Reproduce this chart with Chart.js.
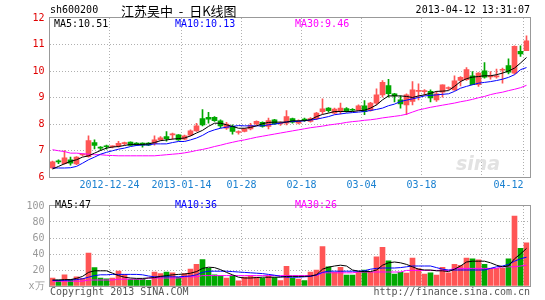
<!DOCTYPE html>
<html>
<head>
<meta charset="utf-8">
<script src="https://cdn.jsdelivr.net/npm/chart.js@4/dist/chart.umd.min.js"></script>
<style>
  html, body { margin: 0; padding: 0; background: #fff; }
  #wrap { position: relative; width: 545px; height: 300px; overflow: hidden; }
  canvas { position: absolute; left: 0; }
  #kline { top: 0; }
  #volume { top: 195px; }
</style>
</head>
<body>
<div id="wrap">
  <canvas id="kline" width="545" height="195"></canvas>
  <canvas id="volume" width="545" height="105"></canvas>
</div>
<script>
// ===== Data =====
const dates = [
  '2012-12-10','2012-12-11','2012-12-12','2012-12-13','2012-12-14','2012-12-17','2012-12-18','2012-12-19','2012-12-20','2012-12-21',
  '2012-12-24','2012-12-25','2012-12-26','2012-12-27','2012-12-28','2012-12-31','2013-01-04','2013-01-07','2013-01-08','2013-01-09',
  '2013-01-10','2013-01-11','2013-01-14','2013-01-15','2013-01-16','2013-01-17','2013-01-18','2013-01-21','2013-01-22','2013-01-23',
  '2013-01-24','2013-01-25','2013-01-28','2013-01-29','2013-01-30','2013-01-31','2013-02-01','2013-02-04','2013-02-05','2013-02-06',
  '2013-02-07','2013-02-08','2013-02-18','2013-02-19','2013-02-20','2013-02-21','2013-02-22','2013-02-25','2013-02-26','2013-02-27',
  '2013-02-28','2013-03-01','2013-03-04','2013-03-05','2013-03-06','2013-03-07','2013-03-08','2013-03-11','2013-03-12','2013-03-13',
  '2013-03-14','2013-03-15','2013-03-18','2013-03-19','2013-03-20','2013-03-21','2013-03-22','2013-03-25','2013-03-26','2013-03-27',
  '2013-03-28','2013-03-29','2013-04-01','2013-04-02','2013-04-03','2013-04-08','2013-04-09','2013-04-10','2013-04-11','2013-04-12'
];

const openP = [
  6.34, 6.58, 6.50, 6.65, 6.49, 6.83, 6.77, 7.30, 7.10, 7.15,
  7.14, 7.16, 7.26, 7.32, 7.28, 7.28, 7.28, 7.27, 7.40, 7.53,
  7.59, 7.59, 7.43, 7.58, 7.74, 8.20, 8.25, 8.25, 8.12, 7.84,
  7.91, 7.68, 7.72, 7.81, 8.00, 8.06, 7.91, 8.16, 8.00, 8.03,
  8.20, 8.03, 8.17, 8.10, 8.20, 8.47, 8.60, 8.41, 8.47, 8.58,
  8.54, 8.51, 8.69, 8.51, 8.79, 9.10, 9.45, 9.14, 8.91, 8.72,
  8.85, 9.23, 9.22, 9.23, 8.91, 9.20, 9.34, 9.29, 9.64, 9.67,
  9.82, 9.48, 10.01, 9.78, 9.78, 10.03, 10.20, 9.92, 10.74, 10.77
];
const highP = [
  6.60, 6.65, 7.00, 6.75, 6.77, 6.87, 7.55, 7.40, 7.15, 7.20,
  7.18, 7.35, 7.32, 7.33, 7.30, 7.29, 7.30, 7.55, 7.53, 7.71,
  7.66, 7.60, 7.58, 7.78, 8.03, 8.54, 8.44, 8.28, 8.16, 8.06,
  7.97, 7.74, 7.84, 8.03, 8.12, 8.08, 8.22, 8.18, 8.08, 8.51,
  8.22, 8.16, 8.22, 8.24, 8.44, 8.95, 8.62, 8.60, 8.79, 8.62,
  8.58, 8.72, 8.88, 8.82, 9.33, 9.64, 9.69, 9.16, 9.06, 9.14,
  9.60, 9.52, 9.30, 9.29, 9.23, 9.48, 9.40, 9.82, 9.79, 10.13,
  9.98, 9.94, 10.32, 9.98, 10.07, 10.11, 10.46, 10.95, 10.95, 11.33
];
const lowP = [
  6.32, 6.50, 6.48, 6.45, 6.47, 6.80, 6.75, 7.06, 7.00, 7.05,
  7.10, 7.13, 7.20, 7.18, 7.18, 7.13, 7.18, 7.20, 7.38, 7.35,
  7.43, 7.38, 7.40, 7.55, 7.72, 7.93, 8.03, 8.10, 7.85, 7.80,
  7.62, 7.62, 7.70, 7.78, 7.97, 7.88, 7.81, 7.98, 7.95, 7.97,
  8.03, 8.00, 8.10, 8.07, 8.16, 8.38, 8.45, 8.38, 8.38, 8.45,
  8.48, 8.50, 8.35, 8.48, 8.72, 9.01, 9.01, 8.83, 8.60, 8.35,
  8.72, 8.91, 9.10, 8.83, 8.85, 9.01, 9.30, 9.27, 9.44, 9.64,
  9.48, 9.42, 9.73, 9.69, 9.73, 9.54, 9.89, 9.88, 10.55, 10.77
];
const closeP = [
  6.57, 6.57, 6.72, 6.52, 6.75, 6.85, 7.37, 7.19, 7.09, 7.14,
  7.16, 7.27, 7.28, 7.19, 7.20, 7.20, 7.20, 7.40, 7.48, 7.45,
  7.61, 7.40, 7.55, 7.74, 7.93, 7.97, 8.18, 8.13, 7.93, 8.00,
  7.72, 7.70, 7.82, 7.94, 8.10, 7.91, 8.13, 8.00, 8.03, 8.28,
  8.07, 8.10, 8.15, 8.20, 8.41, 8.57, 8.50, 8.56, 8.60, 8.50,
  8.52, 8.69, 8.47, 8.79, 9.10, 9.57, 9.14, 9.06, 8.76, 9.10,
  9.29, 9.25, 9.24, 8.98, 9.14, 9.48, 9.36, 9.63, 9.76, 10.05,
  9.48, 9.92, 9.77, 9.80, 9.80, 10.05, 9.96, 10.93, 10.64, 11.14
];

const ma5 = [
  6.30, 6.40, 6.50, 6.59, 6.65, 6.75, 6.80, 6.90, 7.00, 7.09,
  7.13, 7.15, 7.19, 7.23, 7.23, 7.23, 7.25, 7.30, 7.37, 7.40,
  7.43, 7.45, 7.47, 7.55, 7.66, 7.76, 7.91, 8.03, 8.03, 7.97,
  7.91, 7.84, 7.84, 7.87, 7.93, 8.01, 8.06, 8.07, 8.07, 8.07,
  8.12, 8.12, 8.13, 8.16, 8.28, 8.36, 8.41, 8.47, 8.47, 8.47,
  8.47, 8.50, 8.52, 8.60, 8.72, 8.91, 9.06, 9.06, 9.06, 9.04,
  9.00, 9.06, 9.10, 9.16, 9.23, 9.24, 9.26, 9.42, 9.60, 9.71,
  9.77, 9.79, 9.82, 9.82, 9.86, 9.92, 10.00, 10.11, 10.30, 10.51
];
const ma10 = [
  6.34, 6.34, 6.34, 6.35, 6.40, 6.52, 6.65, 6.75, 6.86, 6.93,
  6.99, 7.05, 7.09, 7.15, 7.19, 7.21, 7.21, 7.25, 7.25, 7.25,
  7.30, 7.34, 7.34, 7.40, 7.47, 7.57, 7.70, 7.78, 7.84, 7.88,
  7.91, 7.94, 7.93, 7.93, 7.93, 7.93, 7.97, 8.00, 8.03, 8.08,
  8.09, 8.10, 8.12, 8.15, 8.18, 8.23, 8.28, 8.35, 8.38, 8.41,
  8.43, 8.45, 8.47, 8.51, 8.55, 8.60, 8.69, 8.75, 8.85, 8.90,
  8.95, 9.00, 9.06, 9.08, 9.10, 9.12, 9.14, 9.23, 9.35, 9.42,
  9.48, 9.54, 9.57, 9.60, 9.64, 9.69, 9.76, 9.86, 10.05, 10.13
];
const ma30 = [
  7.03, 6.99, 6.96, 6.90, 6.90, 6.88, 6.86, 6.84, 6.84, 6.82,
  6.81, 6.80, 6.80, 6.80, 6.80, 6.80, 6.80, 6.80, 6.82, 6.84,
  6.86, 6.88, 6.91, 6.95, 7.00, 7.04, 7.09, 7.15, 7.20, 7.26,
  7.31, 7.36, 7.40, 7.45, 7.50, 7.54, 7.58, 7.62, 7.66, 7.70,
  7.74, 7.78, 7.82, 7.86, 7.89, 7.92, 7.96, 7.99, 8.02, 8.06,
  8.09, 8.11, 8.14, 8.16, 8.19, 8.23, 8.26, 8.29, 8.32, 8.37,
  8.45, 8.53, 8.58, 8.63, 8.67, 8.71, 8.75, 8.79, 8.84, 8.88,
  8.93, 8.99, 9.04, 9.11, 9.16, 9.20, 9.26, 9.31, 9.37, 9.46
];

// volume dalam satuan 万
const volume = [
  10, 7.5, 14, 8, 11.5, 9.7, 41, 23, 10, 9,
  10, 18.5, 14.5, 8.3, 8.3, 8.3, 7, 17.4, 15.4, 17.4,
  16.6, 10.7, 15.4, 21, 27, 33, 22, 14, 12.6, 10,
  13, 6.5, 11, 12.6, 11, 9.5, 12.5, 10.5, 6.7, 24.5,
  10, 8.7, 6.7, 17.4, 19.8, 49.4, 24, 17, 23.3, 13.8,
  13.8, 17, 20, 17, 36.4, 48.2, 31.6, 15, 17, 16.2,
  34.8, 21.7, 15, 16.6, 13.8, 23.3, 16.6, 27, 25.7, 35,
  34, 32.8, 27, 21, 22, 22, 34, 87.4, 47, 54
];
const volMa5 = [
  7.5, 7.5, 8, 8, 9.5, 12, 17, 19, 19, 19,
  16, 13, 11, 10, 9.5, 9.5, 10, 10.5, 12, 13,
  14, 14.5, 15, 16, 18, 22, 23.5, 23, 20.5, 17,
  14, 11, 10, 10, 10.5, 11, 11, 11, 11, 12,
  12, 12, 12, 12.5, 14, 21, 23.5, 25, 26, 25,
  20, 18.5, 18, 18, 20, 26, 29, 30, 29, 27,
  24, 21, 20, 20, 19, 19, 18, 21, 25, 30,
  31, 31, 31, 29, 26, 24, 25, 34, 40, 47
];
const volMa10 = [
  7, 7, 7, 7.5, 8, 9, 11, 13, 14, 14,
  14.5, 14.5, 14.5, 14.5, 14.5, 14, 12.5, 11.5, 11.5, 11.5,
  11.5, 11.5, 12, 12.5, 14, 17, 18.5, 18.5, 18.5, 18.5,
  18, 17.5, 17, 16.5, 16, 15.5, 14.5, 13.5, 12, 11,
  11, 11, 11.5, 12, 14, 17, 18.5, 18.5, 18.5, 18.5,
  18.5, 18.5, 19, 21, 22, 22.5, 22.5, 22.5, 23, 24,
  25, 25, 25, 25, 23, 21, 20, 20, 20, 20,
  20, 20, 20, 22, 24, 25, 27, 31, 34, 36
];
const volMa30 = [
  6, 6, 6, 6, 6, 6, 7.5, 7.5, 7.5, 7.5,
  7.5, 8.5, 8.5, 8.5, 8.5, 8.5, 10, 10, 10, 10,
  10, 10, 11.5, 11.5, 11.5, 13, 13, 13, 13, 13,
  13, 13, 13, 13, 13, 13, 13, 13, 13, 13,
  13, 13, 13, 13, 13, 16.5, 16.5, 16.5, 16.5, 16.5,
  16.5, 17.5, 17.5, 17.5, 17.5, 17.5, 17.5, 17.5, 17.5, 19.5,
  19.5, 19.5, 19.5, 19.5, 19.5, 19.5, 19.5, 22, 22, 22,
  22, 22, 22, 22, 22, 24, 24, 24, 25, 26
];

// label sumbu x dan garis grid vertikal
const tickDates = ['2012-12-24', '2013-01-14', '2013-01-28', '2013-02-18', '2013-03-04', '2013-03-18', '2013-04-12'];
const tickTexts = ['2012-12-24', '2013-01-14', '01-28', '02-18', '03-04', '03-18', '04-12'];
const gridDates = ['2012-12-24', '2013-01-14', '2013-01-28', '2013-02-18', '2013-03-04', '2013-03-18', '2013-04-01', '2013-04-12'];

const stockCode = 'sh600200';
const titleText = '江苏吴中  -  日K线图';
const stampText = '2013-04-12 13:31:07';

// ===== Gaya =====
const MONO = '"DejaVu Sans Mono", monospace';
const RED = '#ff5555';
const GREEN = '#00a800';
const GRID = '#b0b0b0';
const gridIdx = gridDates.map(d => dates.indexOf(d));
const candleColors = dates.map((d, i) => closeP[i] >= openP[i] ? RED : GREEN);

// bingkai abu-abu di sekeliling area grafik
const framePlugin = {
  id: 'frame',
  afterDraw(chart) {
    const { ctx, chartArea: a } = chart;
    ctx.save();
    ctx.strokeStyle = '#999';
    ctx.lineWidth = 1;
    ctx.strokeRect(Math.round(a.left) - 0.5, Math.round(a.top) - 0.5,
      Math.round(a.right - a.left) + 1, Math.round(a.bottom - a.top) + 1);
    ctx.restore();
  }
};

// watermark sina, judul dan legenda MA pada panel harga
const headerPlugin = {
  id: 'header',
  beforeDatasetsDraw(chart) {
    const ctx = chart.ctx;
    ctx.save();
    ctx.font = 'italic bold 19px "DejaVu Sans", sans-serif';
    ctx.fillStyle = '#e2e2e2';
    ctx.textBaseline = 'alphabetic';
    ctx.fillText('sina', 456, 170);
    ctx.restore();
  },
  afterDraw(chart) {
    const ctx = chart.ctx;
    ctx.save();
    ctx.textBaseline = 'middle';
    ctx.fillStyle = '#000';
    ctx.font = '10px ' + MONO;
    ctx.textAlign = 'left';
    ctx.fillText(stockCode, 50, 10.5);
    ctx.textAlign = 'right';
    ctx.fillText(stampText, 530, 10.5);
    ctx.textAlign = 'left';
    ctx.font = '13px "Noto Sans CJK SC", sans-serif';
    ctx.fillText(titleText, 121, 11.5);

    ctx.font = '10px ' + MONO;
    ctx.fillStyle = '#000';
    ctx.fillText('MA5:' + ma5[ma5.length - 1].toFixed(2), 54, 24.5);
    ctx.fillStyle = '#0000ff';
    ctx.fillText('MA10:' + ma10[ma10.length - 1].toFixed(2), 175, 24.5);
    ctx.fillStyle = '#ff00ff';
    ctx.fillText('MA30:' + ma30[ma30.length - 1].toFixed(2), 295, 24.5);
    ctx.restore();
  }
};

// legenda volume + copyright di bawah
const footerPlugin = {
  id: 'footer',
  afterDraw(chart) {
    const ctx = chart.ctx;
    ctx.save();
    ctx.textBaseline = 'middle';
    ctx.font = '10px ' + MONO;
    ctx.textAlign = 'left';
    ctx.fillStyle = '#000';
    ctx.fillText('MA5:' + volMa5[volMa5.length - 1].toFixed(0), 55, 10);
    ctx.fillStyle = '#0000ff';
    ctx.fillText('MA10:' + volMa10[volMa10.length - 1].toFixed(0), 175, 10);
    ctx.fillStyle = '#ff00ff';
    ctx.fillText('MA30:' + volMa30[volMa30.length - 1].toFixed(0), 295, 10);

    ctx.fillStyle = '#555';
    ctx.fillText('Copyright 2013 SINA.COM', 50, 97);
    ctx.textAlign = 'right';
    ctx.fillText('http://finance.sina.com.cn', 530, 97);
    ctx.restore();
  }
};

function maLine(data, color) {
  return { type: 'line', data: data, borderColor: color, borderWidth: 1, pointRadius: 0, tension: 0, order: 0 };
}

// sumbu x bersama (grid vertikal hanya pada tanggal tertentu)
function xScale(showTicks) {
  return {
    offset: true,
    grid: {
      offset: true,
      drawTicks: false,
      lineWidth: 1,
      color: (c) => gridIdx.includes(c.index) ? GRID : 'rgba(0,0,0,0)'
    },
    border: { display: false, dash: [1, 2] },
    ticks: {
      display: showTicks,
      autoSkip: false,
      maxRotation: 0,
      align: 'inner',
      labelOffset: -3,
      padding: 2,
      color: '#1a80d0',
      font: { family: MONO, size: 10 },
      callback: (v, i) => {
        const k = tickDates.indexOf(dates[i]);
        return k >= 0 ? tickTexts[k] : '';
      }
    },
    afterFit: (s) => { s.height = showTicks ? 18 : 0; }
  };
}

// ===== Panel harga (K线) =====
new Chart(document.getElementById('kline'), {
  type: 'bar',
  data: {
    labels: dates,
    datasets: [
      maLine(ma5, '#000000'),
      maLine(ma10, '#0000ff'),
      maLine(ma30, '#ff00ff'),
      {
        data: dates.map((d, i) => [openP[i], closeP[i]]),
        backgroundColor: candleColors,
        barThickness: 5,
        minBarLength: 1,
        grouped: false,
        order: 1
      },
      {
        data: dates.map((d, i) => [lowP[i], highP[i]]),
        backgroundColor: candleColors,
        barThickness: 1,
        grouped: false,
        order: 2
      }
    ]
  },
  options: {
    responsive: false,
    animation: false,
    devicePixelRatio: 1,
    layout: { padding: { top: 18, right: 15.5, left: 0, bottom: 0 } },
    plugins: { legend: { display: false }, tooltip: { enabled: false } },
    scales: {
      x: xScale(true),
      y: {
        min: 6,
        max: 12,
        ticks: { stepSize: 1, padding: 5, color: '#e00000', font: { family: MONO, size: 10 } },
        grid: {
          drawTicks: false,
          color: (c) => (c.tick.value === 6 || c.tick.value === 12) ? 'rgba(0,0,0,0)' : GRID
        },
        border: { display: false, dash: [1, 2] },
        afterFit: (s) => { s.width = 49.5; }
      }
    }
  },
  plugins: [framePlugin, headerPlugin]
});

// ===== Panel volume =====
new Chart(document.getElementById('volume'), {
  type: 'bar',
  data: {
    labels: dates,
    datasets: [
      maLine(volMa5, '#000000'),
      maLine(volMa10, '#0000ff'),
      maLine(volMa30, '#ff00ff'),
      {
        data: volume,
        backgroundColor: candleColors,
        barThickness: 5,
        grouped: false,
        order: 1
      }
    ]
  },
  options: {
    responsive: false,
    animation: false,
    devicePixelRatio: 1,
    layout: { padding: { top: 6, right: 15.5, left: 0, bottom: 14 } },
    plugins: { legend: { display: false }, tooltip: { enabled: false } },
    scales: {
      x: xScale(false),
      y: {
        min: 0,
        max: 100,
        ticks: {
          stepSize: 20,
          padding: 5,
          color: '#999',
          font: { family: MONO, size: 10 },
          callback: (v) => v === 0 ? 'x万' : v
        },
        grid: {
          drawTicks: false,
          color: (c) => (c.tick.value === 0 || c.tick.value === 100) ? 'rgba(0,0,0,0)' : GRID
        },
        border: { display: false, dash: [1, 2] },
        afterFit: (s) => { s.width = 49.5; }
      }
    }
  },
  plugins: [framePlugin, footerPlugin]
});
</script>
</body>
</html>
